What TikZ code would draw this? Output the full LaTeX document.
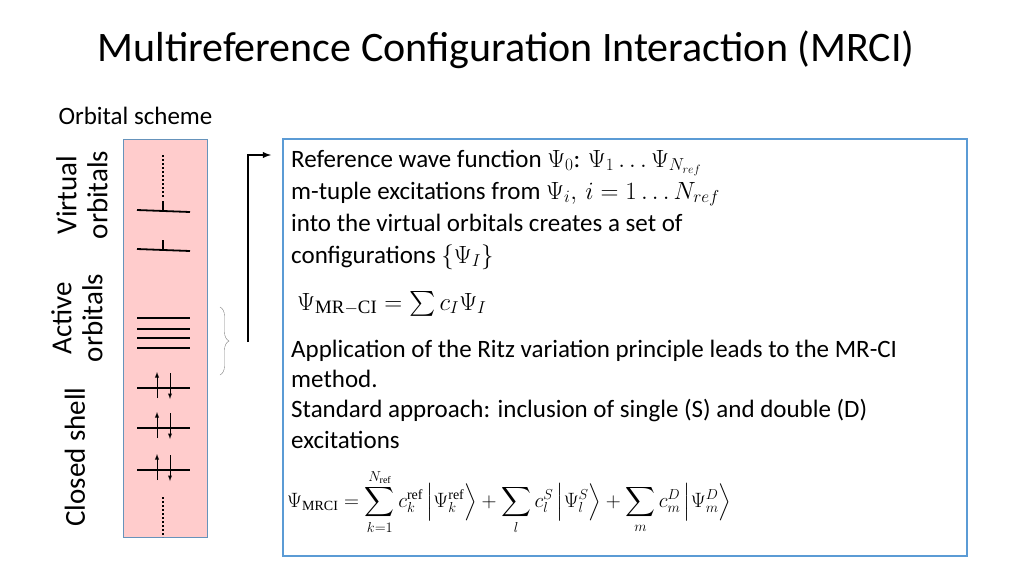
\documentclass[tikz,border=0pt]{standalone}
\usepackage{amsmath}
\usepackage{fontspec}
\setmainfont{Carlito}
\setmathrm{Liberation Serif}
\newfontfamily\tms{Liberation Serif}
\usetikzlibrary{decorations.pathreplacing}
\definecolor{pinkf}{HTML}{FFCCCC}
\definecolor{boxb}{HTML}{5B9BD5}
\newcommand{\rmsub}[1]{\text{\tms #1}}
\tikzset{lvl/.style={line width=1.8pt},
  spin/.style={line width=0.9pt,-latex},
  dots/.style={line width=2.5pt,dash pattern=on 2pt off 2pt},
  body/.style={anchor=base west,font=\fontsize{25}{30}\selectfont,inner sep=0pt},
  lbl/.style={rotate=90,font=\fontsize{29}{31}\selectfont,align=center}}
\begin{document}
\begin{tikzpicture}[x=1pt,y=-1pt]
\useasboundingbox (0,0) rectangle (1024,576);
\node[font=\fontsize{42}{44}\selectfont] (title) at (506,50) {Multireference Configuration Interaction (MRCI)};
\node[anchor=west,font=\fontsize{25}{28}\selectfont] (os) at (55,116) {Orbital scheme};
\node[lbl] (vo) at (82,195) {Virtual\\orbitals};
\node[lbl] (ao) at (77,318) {Active\\orbitals};
\node[lbl] (cs) at (75,457) {Closed shell};
\node[draw=boxb!70!gray,fill=pinkf,line width=0.8pt,minimum width=84,minimum height=398,inner sep=0] (col) at (165,338) {};
% virtual
\draw[dots] (163,155) -- (163,198);
\foreach \y in {212,251}{\draw[lvl] (137,\y-2) -- (190,\y); \draw[lvl] (163,\y-11) -- (163,\y);}
% active
\foreach \y in {318,329,338,348}{\draw[lvl] (137,\y) -- (190,\y);}
% closed
\foreach \y in {388,428,470}{
 \draw[lvl] (137,\y) -- (190,\y);
 \draw[spin] (157,\y+10) -- (157,\y-16);
 \draw[spin] (170,\y-15) -- (170,\y+11);}
\draw[dots] (163,497) -- (163,537);
\draw[gray,decorate,decoration={brace,amplitude=9pt}] (220,307) -- (220,375) coordinate[midway] (bm);
\coordinate (a0) at (248,342);
\coordinate (a1) at (271,155);
\draw[line width=1.8pt,-latex] (a0) |- (a1);
\node[draw=boxb,line width=2.5pt,minimum width=684,minimum height=417,inner sep=0] (box) at (625,347.5) {};
\node[body] (t1) at (291,167) {Reference wave function $\Psi_0$: $\Psi_1\ldots\Psi_{N_{ref}}$};
\node[body] (t2) at (291,199) {m-tuple excitations from $\Psi_i,\, i=1\ldots N_{ref}$};
\node[body] (t3) at (291,231) {into the virtual orbitals creates a set of};
\node[body] (t4) at (291,263) {configurations $\{\Psi_I\}$};
\node[body,font=\fontsize{27}{30}\selectfont] (e1) at (297,310) {$\Psi_{\rmsub{MR}-\rmsub{CI}}=\sum c_I\Psi_I$};
\node[body] (t5) at (291,357) {Application of the Ritz variation principle leads to the MR-CI};
\node[body] (t6) at (291,387) {method.};
\node[body] (t7) at (291,417) {Standard approach: inclusion of single (S) and double (D)};
\node[body] (t8) at (291,448) {excitations};
\node[anchor=west,font=\fontsize{20}{24}\selectfont,inner sep=0] (e2) at (287,502) {$\displaystyle \Psi_{\rmsub{MRCI}}=\sum_{k=1}^{N_{\rmsub{ref}}}c_k^{\rmsub{ref}}\,\Bigl|\Psi_k^{\rmsub{ref}}\Bigr\rangle+\sum_l c_l^S\,\Bigl|\Psi_l^S\Bigr\rangle+\sum_m c_m^D\,\Bigl|\Psi_m^D\Bigr\rangle$};
\end{tikzpicture}
\end{document}
